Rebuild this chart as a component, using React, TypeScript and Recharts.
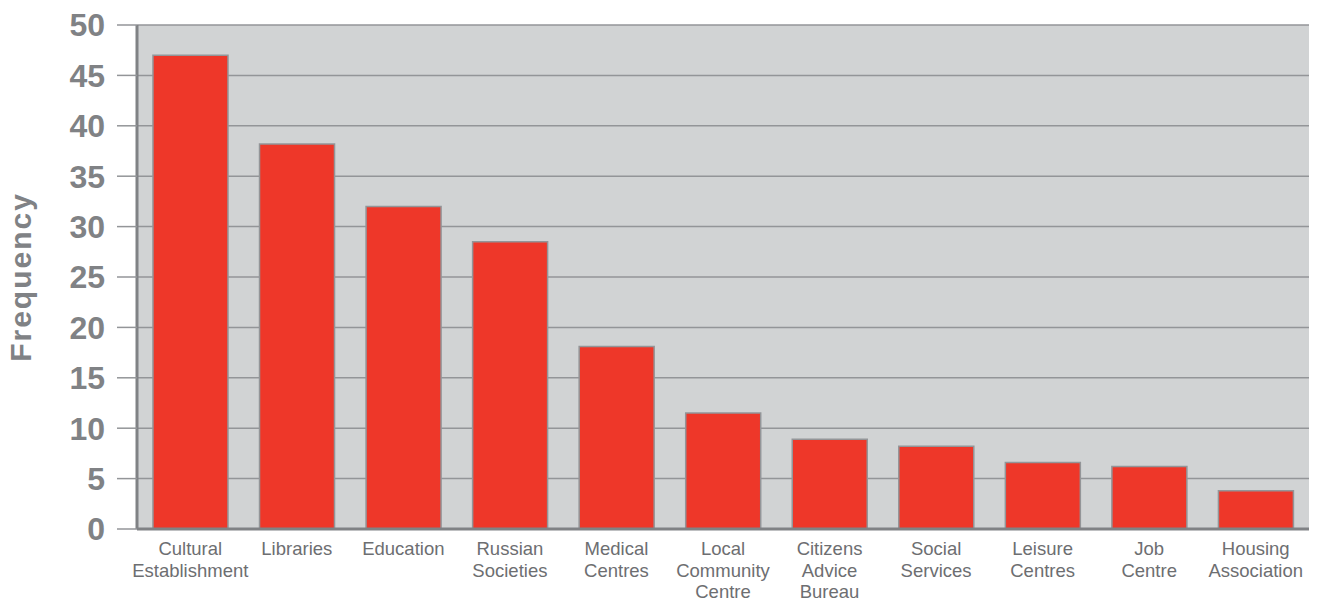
import { BarChart, Bar, XAxis, YAxis, CartesianGrid, Label } from "recharts";

const categories = [
  "Cultural\nEstablishment",
  "Libraries",
  "Education",
  "Russian\nSocieties",
  "Medical\nCentres",
  "Local\nCommunity\nCentre",
  "Citizens\nAdvice\nBureau",
  "Social\nServices",
  "Leisure\nCentres",
  "Job\nCentre",
  "Housing\nAssociation",
];
const frequency = [47, 38.2, 32, 28.5, 18.1, 11.5, 8.9, 8.2, 6.6, 6.2, 3.8];
const yTicks = [0, 5, 10, 15, 20, 25, 30, 35, 40, 45, 50];

const data = categories.map((name, i) => ({ name, value: frequency[i] }));

const XTick = (props: any) => {
  const { x, y, payload } = props;
  const lines = String(payload.value).split("\n");
  return (
    <text
      x={x}
      y={y}
      textAnchor="middle"
      fill="#6d6e71"
      fontSize={18.5}
      fontFamily="'Liberation Sans', Arial, sans-serif"
    >
      {lines.map((l, i) => (
        <tspan key={i} x={x} dy={i === 0 ? 18 : 21.5}>
          {l}
        </tspan>
      ))}
    </text>
  );
};

export default function App() {
  return (
    <div style={{ position: "absolute", left: 0, top: 0, background: "#fff" }}>
      <BarChart
        width={1317}
        height={601}
        data={data}
        margin={{ top: 25, right: 8, left: 0, bottom: 0 }}
        barCategoryGap="15%"
      >
        <CartesianGrid
          vertical={false}
          fill="#d1d3d4"
          stroke="#939598"
          strokeWidth={1.5}
          fillOpacity={1}
        />
        <XAxis
          dataKey="name"
          interval={0}
          height={72}
          tick={<XTick />}
          tickLine={false}
          axisLine={{ stroke: "#808285", strokeWidth: 3 }}
        />
        <YAxis
          type="number"
          domain={[0, 50]}
          ticks={yTicks}
          width={137}
          tickSize={20}
          tickMargin={12}
          tickLine={{ stroke: "#939598", strokeWidth: 1.5 }}
          axisLine={{ stroke: "#808285", strokeWidth: 3 }}
          tick={{
            fill: "#808285",
            fontSize: 32,
            fontWeight: 700,
            fontFamily: "'Liberation Sans', Arial, sans-serif",
          }}
        >
          <Label
            value="Frequency"
            angle={-90}
            position="insideLeft"
            offset={0}
            style={{
              fill: "#808285",
              fontSize: 30,
              fontWeight: 700,
              letterSpacing: 2,
              fontFamily: "'Liberation Sans', Arial, sans-serif",
              textAnchor: "middle",
            }}
            dx={20}
          />
        </YAxis>
        <Bar
          dataKey="value"
          fill="#ee3729"
          stroke="#939598"
          strokeWidth={1.5}
          isAnimationActive={false}
        />
      </BarChart>
    </div>
  );
}
